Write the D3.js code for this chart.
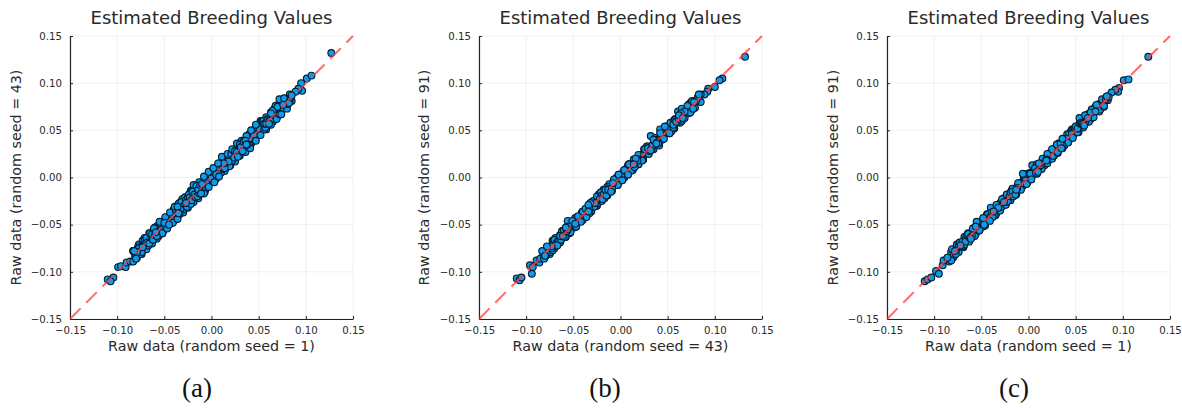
<!DOCTYPE html>
<html>
<head>
<meta charset="utf-8">
<script src="https://cdn.jsdelivr.net/npm/d3@7"></script>
<style>
  html, body { margin: 0; background: #fff; }
  text { font-family: "DejaVu Sans", sans-serif; fill: #2a2a2a; }
  .caption { font-family: "Liberation Serif", serif; font-size: 27px; fill: #111; }
</style>
</head>
<body>
<div id="vis"></div>
<script>
var ticks = [-0.15, -0.10, -0.05, 0, 0.05, 0.10, 0.15];
var titles = ["Estimated Breeding Values", "Estimated Breeding Values", "Estimated Breeding Values"];
var xLabels = ["Raw data (random seed = 1)", "Raw data (random seed = 43)", "Raw data (random seed = 1)"];
var yLabels = ["Raw data (random seed = 43)", "Raw data (random seed = 91)", "Raw data (random seed = 91)"];
var captions = ["(a)", "(b)", "(c)"];

// dense middle of each band
var aCoreX = [-.083,-.080,-.077,-.074,-.071,-.068,-.065,-.062,-.059,-.056,-.053,-.050,-.047,-.044,-.041,-.038,-.035,-.032,-.029,-.026,-.023,-.020,-.017,-.014,-.011,-.008,-.005,-.002,.001,.004,.007,.010,.013,.016,.019,.022,.025,.028,.031,.034,.037,.040,.043,.046,.049,.052,.055,.058,.061,.064,.067,.070,.073,.076,.079,.082,.085,
  -.081,-.078,-.075,-.072,-.069,-.066,-.063,-.060,-.057,-.054,-.051,-.048,-.045,-.042,-.039,-.036,-.033,-.030,-.027,-.024,-.021,-.018,-.015,-.012,-.009,-.006,-.003,.000,.003,.006,.009,.012,.015,.018,.021,.024,.027,.030,.033,.036,.039,.042,.045,.048,.051,.054,.057,.060,.063,.066,.069,.072,.075,.078,.081,.084,
  -.082,-.079,-.076,-.073,-.070,-.067,-.064,-.061,-.058,-.055,-.052,-.049,-.046,-.043,-.040,-.037,-.034,-.031,-.028,-.025,-.022,-.019,-.016,-.013,-.010,-.007,-.004,-.001,.002,.005,.008,.011,.014,.017,.020,.023,.026,.029,.032,.035,.038,.041,.044,.047,.050,.053,.056,.059,.062,.065,.068,.071,.074,.077,.080,.083];
var aCoreY = [-.078,-.083,-.075,-.079,-.067,-.069,-.059,-.066,-.058,-.062,-.050,-.052,-.042,-.049,-.041,-.034,-.038,-.026,-.030,-.031,-.021,-.015,-.021,-.013,-.017,-.005,-.007,.004,-.002,.004,.011,.005,.015,.015,.024,.018,.028,.022,.032,.038,.035,.046,.038,.046,.052,.049,.060,.057,.057,.066,.073,.065,.074,.074,.083,.079,.087,
  -.083,-.074,-.081,-.071,-.064,-.070,-.060,-.061,-.051,-.057,-.056,-.046,-.041,-.044,-.045,-.031,-.032,-.034,-.024,-.018,-.024,-.018,-.020,-.008,-.007,-.012,.002,-.001,.006,.002,.015,.010,.010,.019,.025,.021,.027,.035,.028,.039,.038,.036,.049,.050,.048,.060,.053,.061,.068,.064,.072,.067,.075,.082,.078,.085,
  -.078,-.085,-.076,-.067,-.072,-.072,-.061,-.054,-.062,-.054,-.059,-.044,-.047,-.046,-.034,-.035,-.039,-.023,-.030,-.021,-.028,-.019,-.009,-.017,-.007,-.015,-.003,.004,-.001,-.001,.015,.013,.010,.017,.013,.029,.029,.024,.033,.039,.035,.034,.049,.049,.049,.059,.051,.062,.060,.059,.075,.071,.070,.082,.081,.080];

var bCoreX = [-.082,-.079,-.076,-.073,-.070,-.067,-.064,-.061,-.058,-.055,-.052,-.049,-.046,-.043,-.040,-.037,-.034,-.031,-.028,-.025,-.022,-.019,-.016,-.013,-.010,-.007,-.004,-.001,.002,.005,.008,.011,.014,.017,.020,.023,.026,.029,.032,.035,.038,.041,.044,.047,.050,.053,.056,.059,.062,.065,.068,.071,.074,.077,.080,.083,
  -.080,-.077,-.074,-.071,-.068,-.065,-.062,-.059,-.056,-.053,-.050,-.047,-.044,-.041,-.038,-.035,-.032,-.029,-.026,-.023,-.020,-.017,-.014,-.011,-.008,-.005,-.002,.001,.004,.007,.010,.013,.016,.019,.022,.025,.028,.031,.034,.037,.040,.043,.046,.049,.052,.055,.058,.061,.064,.067,.070,.073,.076,.079,.082,.085,
  -.081,-.078,-.075,-.072,-.069,-.066,-.063,-.060,-.057,-.054,-.051,-.048,-.045,-.042,-.039,-.036,-.033,-.030,-.027,-.024,-.021,-.018,-.015,-.012,-.009,-.006,-.003,.000,.003,.006,.009,.012,.015,.018,.021,.024,.027,.030,.033,.036,.039,.042,.045,.048,.051,.054,.057,.060,.063,.066,.069,.072,.075,.078,.081,.084];
var bCoreY = [-.079,-.083,-.075,-.075,-.066,-.072,-.062,-.062,-.053,-.058,-.052,-.053,-.043,-.042,-.045,-.033,-.036,-.029,-.031,-.020,-.023,-.023,-.013,-.013,-.015,-.005,.000,-.004,.003,.003,.013,.007,.014,.020,.019,.018,.030,.031,.029,.040,.036,.042,.040,.050,.049,.058,.053,.059,.066,.060,.070,.069,.077,.073,.081,.088,
  -.083,-.075,-.079,-.067,-.068,-.067,-.057,-.063,-.055,-.050,-.051,-.052,-.042,-.037,-.041,-.035,-.027,-.031,-.030,-.020,-.019,-.022,-.010,-.012,-.006,-.008,.003,.001,.000,.010,.008,.014,.020,.014,.024,.024,.033,.028,.034,.040,.036,.045,.045,.054,.047,.056,.061,.059,.068,.064,.070,.078,.072,.081,.081,.088,
  -.085,-.075,-.074,-.077,-.064,-.067,-.066,-.056,-.057,-.059,-.049,-.043,-.047,-.046,-.036,-.035,-.038,-.026,-.028,-.027,-.016,-.018,-.019,-.010,-.011,-.002,-.008,.001,.006,.003,.014,.011,.011,.020,.021,.019,.031,.031,.030,.039,.037,.047,.041,.048,.053,.049,.061,.059,.066,.063,.070,.068,.080,.076,.081,.087];

var cCoreX = [-.081,-.078,-.075,-.072,-.069,-.066,-.063,-.060,-.057,-.054,-.051,-.048,-.045,-.042,-.039,-.036,-.033,-.030,-.027,-.024,-.021,-.018,-.015,-.012,-.009,-.006,-.003,.000,.003,.006,.009,.012,.015,.018,.021,.024,.027,.030,.033,.036,.039,.042,.045,.048,.051,.054,.057,.060,.063,.066,.069,.072,.075,.078,.081,.084,
  -.083,-.080,-.077,-.074,-.071,-.068,-.065,-.062,-.059,-.056,-.053,-.050,-.047,-.044,-.041,-.038,-.035,-.032,-.029,-.026,-.023,-.020,-.017,-.014,-.011,-.008,-.005,-.002,.001,.004,.007,.010,.013,.016,.019,.022,.025,.028,.031,.034,.037,.040,.043,.046,.049,.052,.055,.058,.061,.064,.067,.070,.073,.076,.079,.082,
  -.082,-.079,-.076,-.073,-.070,-.067,-.064,-.061,-.058,-.055,-.052,-.049,-.046,-.043,-.040,-.037,-.034,-.031,-.028,-.025,-.022,-.019,-.016,-.013,-.010,-.007,-.004,-.001,.002,.005,.008,.011,.014,.017,.020,.023,.026,.029,.032,.035,.038,.041,.044,.047,.050,.053,.056,.059,.062,.065,.068,.071,.074,.077,.080,.083];
var cCoreY = [-.079,-.081,-.071,-.073,-.073,-.063,-.063,-.062,-.053,-.057,-.050,-.052,-.042,-.043,-.037,-.040,-.029,-.030,-.030,-.022,-.023,-.014,-.019,-.011,-.006,-.009,-.004,.004,.001,.008,.005,.015,.015,.015,.025,.023,.023,.032,.036,.034,.040,.038,.049,.047,.048,.057,.057,.058,.067,.062,.071,.071,.078,.075,.082,.082,
  -.084,-.077,-.081,-.072,-.071,-.071,-.061,-.064,-.058,-.060,-.050,-.048,-.050,-.040,-.042,-.042,-.034,-.029,-.031,-.022,-.026,-.020,-.015,-.018,-.008,-.009,-.001,-.005,.002,.002,.010,.006,.015,.020,.018,.019,.025,.031,.027,.036,.041,.038,.040,.047,.052,.048,.057,.057,.065,.062,.064,.073,.073,.072,.081,.083,
  -.079,-.083,-.075,-.069,-.073,-.068,-.060,-.065,-.056,-.055,-.056,-.046,-.048,-.039,-.043,-.036,-.038,-.029,-.024,-.026,-.025,-.016,-.020,-.013,-.006,-.009,-.002,-.005,.005,.006,.005,.015,.013,.013,.022,.026,.023,.029,.036,.031,.039,.039,.047,.044,.054,.052,.058,.055,.065,.065,.065,.075,.072,.078,.076,.086];

var aX = [.127,.101,.106,.095,.096,.092,.089,-.110,-.107,-.104,-.099,-.096,-.091,-.090,-.086,-.083,
  -.083,-.077,-.071,-.066,-.060,-.055,-.049,-.044,-.039,-.034,-.028,-.022,-.019,-.013,-.008,-.003,.002,.007,.011,.017,.022,.027,.032,.037,.042,.047,.052,.058,.063,.068,.072,.077,.083,
  -.080,-.074,-.069,-.063,-.058,-.052,-.047,-.041,-.036,-.030,-.025,-.019,-.014,-.008,-.003,.003,.008,.014,.019,.025,.030,.036,.041,.047,.052,.058,.063,.069,.074,.080,.085,
  -.079,-.073,-.067,-.061,-.056,-.050,-.045,-.039,-.033,-.027,-.021,-.016,-.010,-.005,.001,.006,.012,.018,.023,.029,.034,.040,.045,.051,.056,.062,.067,.073,.079,
  -.062,-.070,-.059,-.050,-.045,-.035,-.028,-.022,-.012,-.005,.000,.005,.012,.024,.035,.040,.048,.052,.065,.070,.076];
var aY = [.132,.105,.108,.100,.092,.094,.091,-.108,-.110,-.106,-.095,-.094,-.095,-.090,-.089,-.089,
  -.078,-.071,-.064,-.059,-.053,-.047,-.042,-.037,-.031,-.027,-.021,-.014,-.008,-.005,.001,.006,.010,.015,.022,.025,.030,.036,.039,.044,.050,.056,.060,.064,.069,.076,.083,.084,.088,
  -.086,-.081,-.076,-.070,-.065,-.059,-.054,-.048,-.044,-.037,-.032,-.026,-.022,-.017,-.010,-.005,.001,.007,.012,.017,.023,.027,.031,.039,.045,.051,.056,.062,.067,.073,.081,
  -.079,-.074,-.066,-.062,-.056,-.050,-.046,-.039,-.034,-.027,-.022,-.015,-.011,-.004,.000,.007,.012,.017,.024,.029,.033,.041,.045,.051,.057,.061,.068,.073,.079,
  -.057,-.070,-.063,-.048,-.050,-.028,-.030,-.016,-.009,-.007,-.001,.003,.009,.028,.038,.035,.053,.050,.071,.075,.077];

var bX = [.132,.105,.108,.100,.093,.092,.089,-.110,-.107,-.105,-.096,-.094,-.093,-.089,-.086,-.085,
  -.083,-.078,-.072,-.069,-.062,-.056,-.051,-.045,-.040,-.034,-.029,-.023,-.018,-.012,-.007,-.002,.004,.009,.014,.019,.025,.029,.032,.037,.042,.047,.053,.058,.061,.065,.071,.076,.082,
  -.081,-.075,-.070,-.064,-.058,-.053,-.047,-.042,-.036,-.031,-.025,-.020,-.014,-.009,-.003,.002,.008,.013,.019,.024,.030,.035,.041,.046,.052,.057,.063,.068,.074,.079,.085,
  -.079,-.073,-.067,-.061,-.055,-.050,-.044,-.038,-.033,-.027,-.021,-.016,-.010,-.004,.001,.007,.012,.018,.023,.029,.034,.040,.045,.051,.056,.062,.067,.073,.079,
  -.083,-.068,-.064,-.055,-.048,-.034,-.026,-.018,-.011,-.004,.001,.007,.016,.022,.028,.038,.044,.050,.057,.068,.078];
var bY = [.128,.103,.105,.096,.094,.091,.088,-.107,-.109,-.106,-.093,-.102,-.095,-.088,-.090,-.086,
  -.078,-.073,-.067,-.066,-.057,-.046,-.046,-.041,-.036,-.029,-.025,-.018,-.013,-.007,-.002,.003,.008,.014,.019,.024,.030,.033,.044,.042,.051,.054,.057,.062,.070,.073,.076,.081,.085,
  -.086,-.081,-.075,-.069,-.063,-.058,-.052,-.047,-.042,-.036,-.030,-.025,-.019,-.014,-.008,-.003,.003,.008,.014,.019,.025,.030,.034,.041,.047,.052,.058,.063,.069,.074,.080,
  -.079,-.073,-.067,-.062,-.055,-.050,-.044,-.038,-.033,-.027,-.021,-.015,-.010,-.004,.001,.007,.012,.018,.023,.029,.034,.040,.045,.051,.056,.062,.067,.073,.079,
  -.085,-.070,-.061,-.052,-.049,-.032,-.028,-.016,-.013,-.002,.002,.005,.017,.019,.031,.035,.047,.048,.060,.070,.080];

var cX = [.127,.101,.106,.096,.095,.092,.088,.085,-.110,-.107,-.103,-.098,-.095,-.091,-.090,-.086,-.084,
  -.081,-.076,-.068,-.064,-.059,-.055,-.048,-.044,-.040,-.034,-.028,-.023,-.017,-.011,-.006,-.001,.004,.009,.015,.020,.025,.030,.036,.041,.046,.054,.060,.067,.072,.078,.083,
  -.080,-.074,-.069,-.063,-.057,-.052,-.046,-.041,-.035,-.030,-.024,-.019,-.013,-.008,-.002,.003,.009,.014,.020,.025,.031,.036,.042,.047,.053,.058,.064,.069,.075,.080,
  -.078,-.072,-.066,-.060,-.054,-.049,-.043,-.037,-.032,-.026,-.020,-.015,-.009,-.003,.002,.008,.013,.019,.024,.030,.035,.041,.046,.052,.057,.063,.068,.074,.079,
  -.082,-.070,-.062,-.056,-.047,-.036,-.030,-.021,-.012,-.005,.002,.010,.019,.027,.038,.043,.050,.059,.066,.071];
var cY = [.128,.103,.104,.095,.091,.093,.090,.085,-.110,-.108,-.106,-.099,-.102,-.093,-.088,-.085,-.089,
  -.076,-.071,-.063,-.059,-.054,-.047,-.043,-.039,-.032,-.029,-.023,-.018,-.012,-.006,.004,.004,.013,.014,.020,.025,.030,.035,.041,.046,.051,.063,.066,.072,.077,.083,.086,
  -.085,-.079,-.074,-.068,-.062,-.056,-.051,-.046,-.040,-.035,-.029,-.024,-.018,-.013,-.007,-.002,.004,.009,.015,.020,.026,.031,.037,.042,.048,.053,.059,.064,.070,.075,
  -.078,-.072,-.067,-.060,-.054,-.049,-.043,-.038,-.032,-.026,-.020,-.015,-.009,-.003,.002,.008,.013,.019,.024,.030,.035,.041,.046,.052,.057,.063,.068,.074,.079,
  -.088,-.068,-.064,-.052,-.050,-.037,-.027,-.023,-.010,-.007,.004,.007,.018,.030,.034,.046,.048,.056,.069,.070];

var panels = [
  [aCoreX.concat(aX), aCoreY.concat(aY)],
  [bCoreX.concat(bX), bCoreY.concat(bY)],
  [cCoreX.concat(cX), cCoreY.concat(cY)]
];

var width = 1182, height = 408;
var plotSize = 283;
var plotLefts = [70, 479, 887];
var plotTop = 36;
var yLabelX = [16, 424, 833];
var captionX = [197, 605, 1014];

var svg = d3.select('#vis').append('svg')
  .attr('width', width)
  .attr('height', height)
  .style('display', 'block');

// the reference is a soft upscaled raster, take the hard edge off the marks
svg.append('defs').append('filter')
  .attr('id', 'soft')
  .append('feGaussianBlur')
  .attr('stdDeviation', 0.4);

var tickFormat = function (d) { return d3.format('.2f')(d).replace('-', '\u2212'); };

panels.forEach(function (p, i) {
  var x = d3.scaleLinear().domain([-0.15, 0.15]).range([0, plotSize]);
  var y = d3.scaleLinear().domain([-0.15, 0.15]).range([plotSize, 0]);

  var g = svg.append('g')
    .attr('transform', 'translate(' + plotLefts[i] + ',' + plotTop + ')');

  // grid first, under the points
  g.append('g').selectAll('line').data(ticks).enter().append('line')
    .attr('x1', function (d) { return x(d); })
    .attr('x2', function (d) { return x(d); })
    .attr('y1', 0).attr('y2', plotSize)
    .attr('stroke', '#000').attr('stroke-opacity', 0.06);
  g.append('g').selectAll('line').data(ticks).enter().append('line')
    .attr('y1', function (d) { return y(d); })
    .attr('y2', function (d) { return y(d); })
    .attr('x1', 0).attr('x2', plotSize)
    .attr('stroke', '#000').attr('stroke-opacity', 0.06);

  var xAxis = g.append('g')
    .attr('transform', 'translate(0,' + plotSize + ')')
    .call(d3.axisBottom(x).tickValues(ticks).tickFormat(tickFormat).tickSizeInner(-3).tickSizeOuter(0).tickPadding(8));
  var yAxis = g.append('g')
    .call(d3.axisLeft(y).tickValues(ticks).tickFormat(tickFormat).tickSizeInner(-3).tickSizeOuter(0).tickPadding(8));
  [xAxis, yAxis].forEach(function (a) {
    a.selectAll('.domain').attr('stroke', '#222').attr('stroke-width', 1.2);
    a.selectAll('.tick line').attr('stroke', '#222');
    a.selectAll('text').style('font-size', '10.2px').style('font-family', '"DejaVu Sans"').attr('fill', '#2a2a2a');
  });

  var n = p[0].length;
  var pts = d3.range(n).map(function (k) { return { x: p[0][k], y: p[1][k], order: (k * 37) % n }; });
  // mix the draw order so the passes above don't shingle into rows of beads
  pts.sort(function (a, b) { return a.order - b.order; });

  var marks = g.append('g').attr('filter', 'url(#soft)');
  marks.selectAll('circle').data(pts).enter().append('circle')
    .attr('cx', function (d) { return x(d.x); })
    .attr('cy', function (d) { return y(d.y); })
    .attr('r', 3.4)
    .attr('fill', '#0f9bec')
    .attr('stroke', '#062033')
    .attr('stroke-width', 1.15);

  marks.append('line')
    .attr('x1', x(-0.15)).attr('y1', y(-0.15))
    .attr('x2', x(0.15)).attr('y2', y(0.15))
    .attr('stroke', '#ff3c3c')
    .attr('stroke-opacity', 0.75)
    .attr('stroke-width', 2)
    .attr('stroke-dasharray', '15 8');

  svg.append('text')
    .attr('x', plotLefts[i] + plotSize / 2).attr('y', 24)
    .attr('text-anchor', 'middle')
    .style('font-size', '18px')
    .text(titles[i]);

  svg.append('text')
    .attr('x', plotLefts[i] + plotSize / 2).attr('y', 351)
    .attr('text-anchor', 'middle')
    .style('font-size', '14.3px')
    .text(xLabels[i]);

  svg.append('text')
    .attr('transform', 'translate(' + (yLabelX[i] + 5) + ',' + (plotTop + plotSize / 2) + ') rotate(-90)')
    .attr('text-anchor', 'middle')
    .style('font-size', '14.3px')
    .text(yLabels[i]);

  svg.append('text')
    .attr('class', 'caption')
    .attr('x', captionX[i]).attr('y', 397)
    .attr('text-anchor', 'middle')
    .text(captions[i]);
});
</script>
</body>
</html>
